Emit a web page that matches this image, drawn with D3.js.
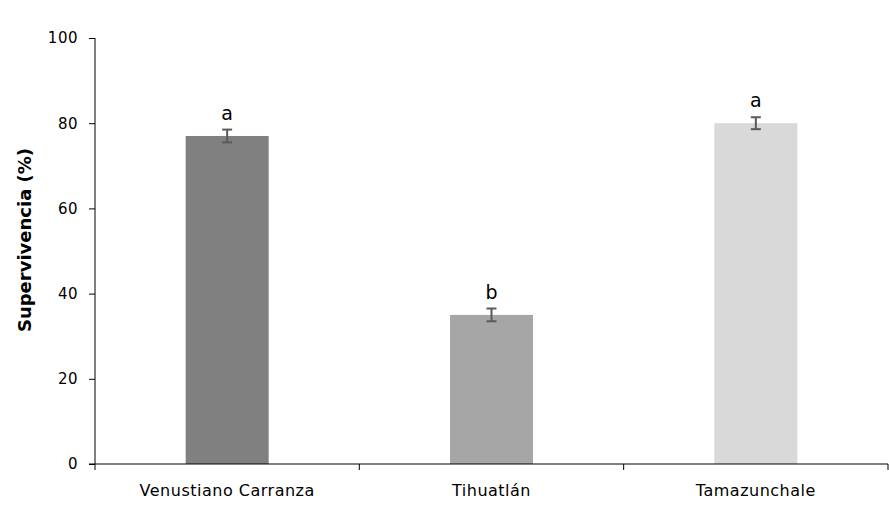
<!DOCTYPE html>
<html><head><meta charset="utf-8">
<script src="https://cdn.jsdelivr.net/npm/d3@7"></script>
<style>body{margin:0;background:#fff}svg{display:block}text{font-family:"DejaVu Sans",Verdana,sans-serif}</style>
</head><body>
<svg id="c" width="889" height="511"></svg>
<script>
const categories = ["Venustiano Carranza", "Tihuatlán", "Tamazunchale"];
const values = [77, 35, 80];
const errors = [1.5, 1.5, 1.4];
const letters = ["a", "b", "a"];
const colors = ["#808080", "#a6a6a6", "#d9d9d9"];
const yTicks = [0, 20, 40, 60, 80, 100];

const svg = d3.select("#c");
const x = d3.scaleBand().domain(categories).range([95, 888]).paddingInner(0).paddingOuter(0);
const y = d3.scaleLinear().domain([0, 100]).range([464, 38]);
const bw = 83;

// y axis
const ya = svg.append("g").attr("transform", "translate(95,0)")
  .call(d3.axisLeft(y).tickValues(yTicks).tickSize(6).tickPadding(11).tickFormat(d3.format("d")));
ya.select(".domain").attr("stroke", "#000").attr("d", "M0,38V464");
ya.selectAll("text").attr("font-size", 15).attr("letter-spacing", 0.5).attr("fill", "#000");
ya.selectAll("line").attr("stroke", "#000");

// bars
svg.selectAll("rect.bar").data(categories).join("rect")
  .attr("x", d => x(d) + x.bandwidth()/2 - bw/2)
  .attr("width", bw)
  .attr("y", (d,i) => y(values[i]))
  .attr("height", (d,i) => y(0) - y(values[i]))
  .attr("fill", (d,i) => colors[i]);

// x axis
const xa = svg.append("g").attr("transform", "translate(0,464)")
  .call(d3.axisBottom(x).tickSize(0).tickPadding(21));
xa.select(".domain").attr("stroke", "#000").attr("d", "M89,0H888");
xa.selectAll("text").attr("font-size", 16).attr("letter-spacing", 0.5).attr("fill", "#000");
const bounds = [95, 95 + x.bandwidth(), 95 + 2*x.bandwidth(), 888];
svg.append("g").selectAll("line").data(bounds).join("line")
  .attr("x1", d => d).attr("x2", d => d).attr("y1", 464).attr("y2", 470).attr("stroke", "#000");

// error bars
const eg = svg.append("g").attr("stroke", "#5a5a5a").attr("stroke-width", 2);
categories.forEach((c, i) => {
  const cx = x(c) + x.bandwidth()/2;
  const t = y(values[i] + errors[i]), b = y(values[i] - errors[i]);
  eg.append("line").attr("x1", cx).attr("x2", cx).attr("y1", t).attr("y2", b);
  eg.append("line").attr("x1", cx-5).attr("x2", cx+5).attr("y1", t).attr("y2", t);
  eg.append("line").attr("x1", cx-5).attr("x2", cx+5).attr("y1", b).attr("y2", b);
});

// letters
svg.selectAll("text.lt").data(categories).join("text").attr("class", "lt")
  .attr("x", d => x(d) + x.bandwidth()/2)
  .attr("y", (d,i) => y(values[i] + errors[i]) - 10)
  .attr("text-anchor", "middle").attr("font-size", 19).attr("fill", "#000")
  .text((d,i) => letters[i]);

// y title
svg.append("text").attr("transform", "translate(31,240) rotate(-90)")
  .attr("text-anchor", "middle").attr("font-size", 18).attr("font-weight", "bold")
  .attr("fill", "#000").text("Supervivencia (%)");
</script>
</body></html>
